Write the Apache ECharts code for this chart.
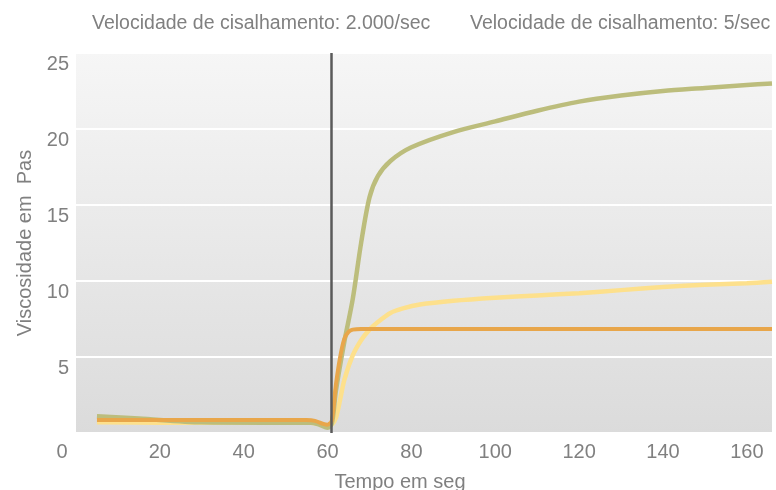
<!DOCTYPE html>
<html>
<head>
<meta charset="utf-8">
<script src="https://cdn.jsdelivr.net/npm/echarts@6/dist/echarts.min.js"></script>
<style>
html,body{margin:0;padding:0;background:#fff;}
#c{width:776px;height:490px;}
</style>
</head>
<body>
<div id="c"></div>
<script>
// Data
const titles = ['Velocidade de cisalhamento: 2.000/sec', 'Velocidade de cisalhamento: 5/sec'];
const xTicks = [0, 20, 40, 60, 80, 100, 120, 140, 160];
const yTicks = [5, 10, 15, 20, 25];
const markerTime = 60.8;

const yellowT = [5, 20, 40, 56, 59, 60, 61, 62, 63, 64, 66, 68, 70, 72, 75, 78, 82, 90, 100, 110, 120, 130, 140, 150, 160, 166];
const yellowV = [0.7, 0.68, 0.68, 0.68, 0.55, 0.45, 0.55, 1.0, 2.2, 3.5, 5.1, 6.1, 6.8, 7.3, 7.9, 8.2, 8.45, 8.7, 8.9, 9.05, 9.2, 9.4, 9.6, 9.75, 9.85, 9.95];

const greenT = [5, 15, 30, 45, 56, 58, 60, 61, 62, 64, 66, 68, 70, 72, 75, 80, 90, 100, 110, 120, 130, 140, 150, 160, 166];
const greenV = [1.1, 0.95, 0.7, 0.68, 0.68, 0.55, 0.35, 0.6, 2.8, 6.0, 8.8, 12.5, 15.5, 16.9, 17.9, 18.8, 19.8, 20.5, 21.2, 21.8, 22.2, 22.5, 22.7, 22.9, 23.0];

const orangeT = [5, 20, 40, 55, 57, 59, 60, 61, 62, 63, 64, 65, 66, 68, 70, 80, 100, 120, 140, 160, 166];
const orangeV = [0.85, 0.85, 0.85, 0.85, 0.8, 0.6, 0.55, 0.8, 3.2, 5.0, 6.2, 6.65, 6.8, 6.85, 6.85, 6.85, 6.85, 6.85, 6.85, 6.85, 6.85];

const zip = (t, v) => t.map((x, i) => [x, v[i]]);
const FONT = 'Liberation Sans';
const GREY = '#808080';
const TS = { fontFamily: FONT, fontWeight: 'normal', fontSize: 20, color: GREY };
const TITLE_TS = Object.assign({}, TS, { fontSize: 19.5 });

const chart = echarts.init(document.getElementById('c'));
chart.setOption({
  animation: false,
  title: [
    { text: titles[0], left: 87, top: 9, textStyle: TITLE_TS },
    { text: titles[1], left: 465, top: 9, textStyle: TITLE_TS }
  ],
  grid: {
    left: 76, right: 4, top: 53, bottom: 57,
    outerBoundsMode: 'none', containLabel: false,
    show: true, borderWidth: 0,
    backgroundColor: new echarts.graphic.LinearGradient(0, 0, 0, 1, [
      { offset: 0, color: '#f6f6f6' }, { offset: 1, color: '#dbdbdb' }
    ])
  },
  xAxis: {
    type: 'value', min: 0, max: 166, interval: 20,
    name: 'Tempo em seg', nameLocation: 'middle', nameGap: 39,
    nameTextStyle: Object.assign({}, TS, { padding: [0, 48, 0, 0] }),
    axisLine: { show: false }, axisTick: { show: false }, splitLine: { show: false },
    axisLabel: Object.assign({}, TS, {
      showMaxLabel: false, margin: 9,
      formatter: v => xTicks.includes(v) ? (v === 0 ? '{z|0}' : String(v)) : '',
      rich: { z: Object.assign({}, TS, { padding: [0, 28, 0, 0] }) }
    })
  },
  yAxis: {
    type: 'value', min: 0, max: 25, interval: 5,
    name: 'Viscosidade em  Pas', nameLocation: 'middle', nameGap: 38, nameRotate: 90,
    nameTextStyle: TS,
    axisLine: { show: false }, axisTick: { show: false },
    splitLine: { show: true, lineStyle: { color: '#ffffff', width: 2 } },
    axisLabel: Object.assign({}, TS, {
      showMinLabel: false, margin: 7, verticalAlign: 'top', padding: [1, 0, 0, 0],
      formatter: v => yTicks.includes(v) ? String(v) : ''
    })
  },
  series: [
    {
      type: 'line', data: zip(yellowT, yellowV), smooth: 0.3, showSymbol: false,
      lineStyle: { color: '#fde08c', width: 4.5 }, z: 2
    },
    {
      type: 'line', data: zip(greenT, greenV), smooth: 0.3, showSymbol: false,
      lineStyle: { color: '#bcbd7c', width: 4.5 }, z: 3
    },
    {
      type: 'line', data: zip(orangeT, orangeV), smooth: 0.3, showSymbol: false,
      lineStyle: { color: '#e8a64a', width: 4 }, z: 4,
      markLine: {
        silent: true, symbol: 'none', label: { show: false },
        lineStyle: { color: '#5a5a5a', width: 2.5, type: 'solid' },
        data: [{ xAxis: markerTime }]
      }
    }
  ]
});
</script>
</body>
</html>
